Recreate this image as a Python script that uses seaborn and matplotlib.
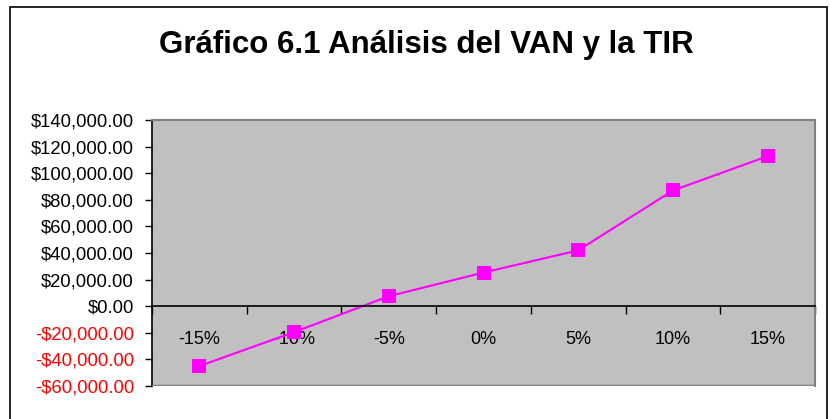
import matplotlib
matplotlib.use("Agg")
import matplotlib.pyplot as plt
import matplotlib.ticker as mticker
from matplotlib.patches import Rectangle
import seaborn as sns
import pandas as pd

# data
tasas = ["-15%", "-10%", "-5%", "0%", "5%", "10%", "15%"]
van = [-45000, -19500, 7500, 25300, 42000, 87000, 112800]

df = pd.DataFrame({"tasa": tasas, "van": van})

sns.set_style("white")
plt.rcParams["font.family"] = ["Liberation Sans", "DejaVu Sans"]
plt.rcParams["text.color"] = "black"
plt.rcParams["xtick.color"] = "black"
plt.rcParams["ytick.color"] = "black"

fig = plt.figure(figsize=(8.3, 4.19), dpi=100)
ax = fig.add_axes([152 / 830, 1 - 386 / 419, 663 / 830, 266 / 419])

sns.lineplot(x="tasa", y="van", data=df, ax=ax, color="#FF00FF", linewidth=1.5,
             marker="s", markersize=10, markeredgewidth=0, sort=False)

ax.set_facecolor("#C0C0C0")
ax.set_xlim(-0.5, len(tasas) - 0.5)
ax.set_ylim(-60000, 140000)
ax.set_xlabel("")
ax.set_ylabel("")

# y axis in dollars, negatives in red
ax.yaxis.set_major_locator(mticker.MultipleLocator(20000))
ax.yaxis.set_major_formatter(mticker.FuncFormatter(
    lambda v, p: ("-$" if v < 0 else "$") + f"{abs(v):,.2f}"))
ax.tick_params(axis="y", direction="out", length=5, width=1, color="black",
               labelsize=13.3, pad=8, left=True)
fig.canvas.draw()
for lab in ax.get_yticklabels():
    if lab.get_text().startswith("-"):
        lab.set_color("red")

# category axis crossing at zero, ticks between categories
ax.spines["bottom"].set_position(("data", 0))
ax.xaxis.set_minor_locator(mticker.FixedLocator([i - 0.5 for i in range(len(tasas) + 1)]))
ax.tick_params(axis="x", which="major", length=0, labelsize=13, pad=18)
ax.tick_params(axis="x", which="minor", direction="out", length=6, width=1,
               color="black", bottom=True)

for side in ["top", "right"]:
    ax.spines[side].set_color("#808080")
    ax.spines[side].set_linewidth(1.5)
ax.spines["left"].set_color("black")
ax.spines["left"].set_linewidth(1.2)
ax.spines["bottom"].set_color("black")
ax.spines["bottom"].set_linewidth(1.2)
# gray frame at bottom of plot area
ax.axhline(-60000, color="#808080", linewidth=2.5, zorder=5)

fig.text(426 / 830, 1 - 45 / 419, "Gráfico 6.1 Análisis del VAN y la TIR",
         ha="center", va="center", fontsize=22.5, fontweight="bold")

# chart border
fig.patches.append(Rectangle((10 / 830, -0.05), 817 / 830, 1.05 - 7 / 419,
                             transform=fig.transFigure, fill=False,
                             edgecolor="black", linewidth=1.2))

fig.savefig("out.png", dpi=100)
